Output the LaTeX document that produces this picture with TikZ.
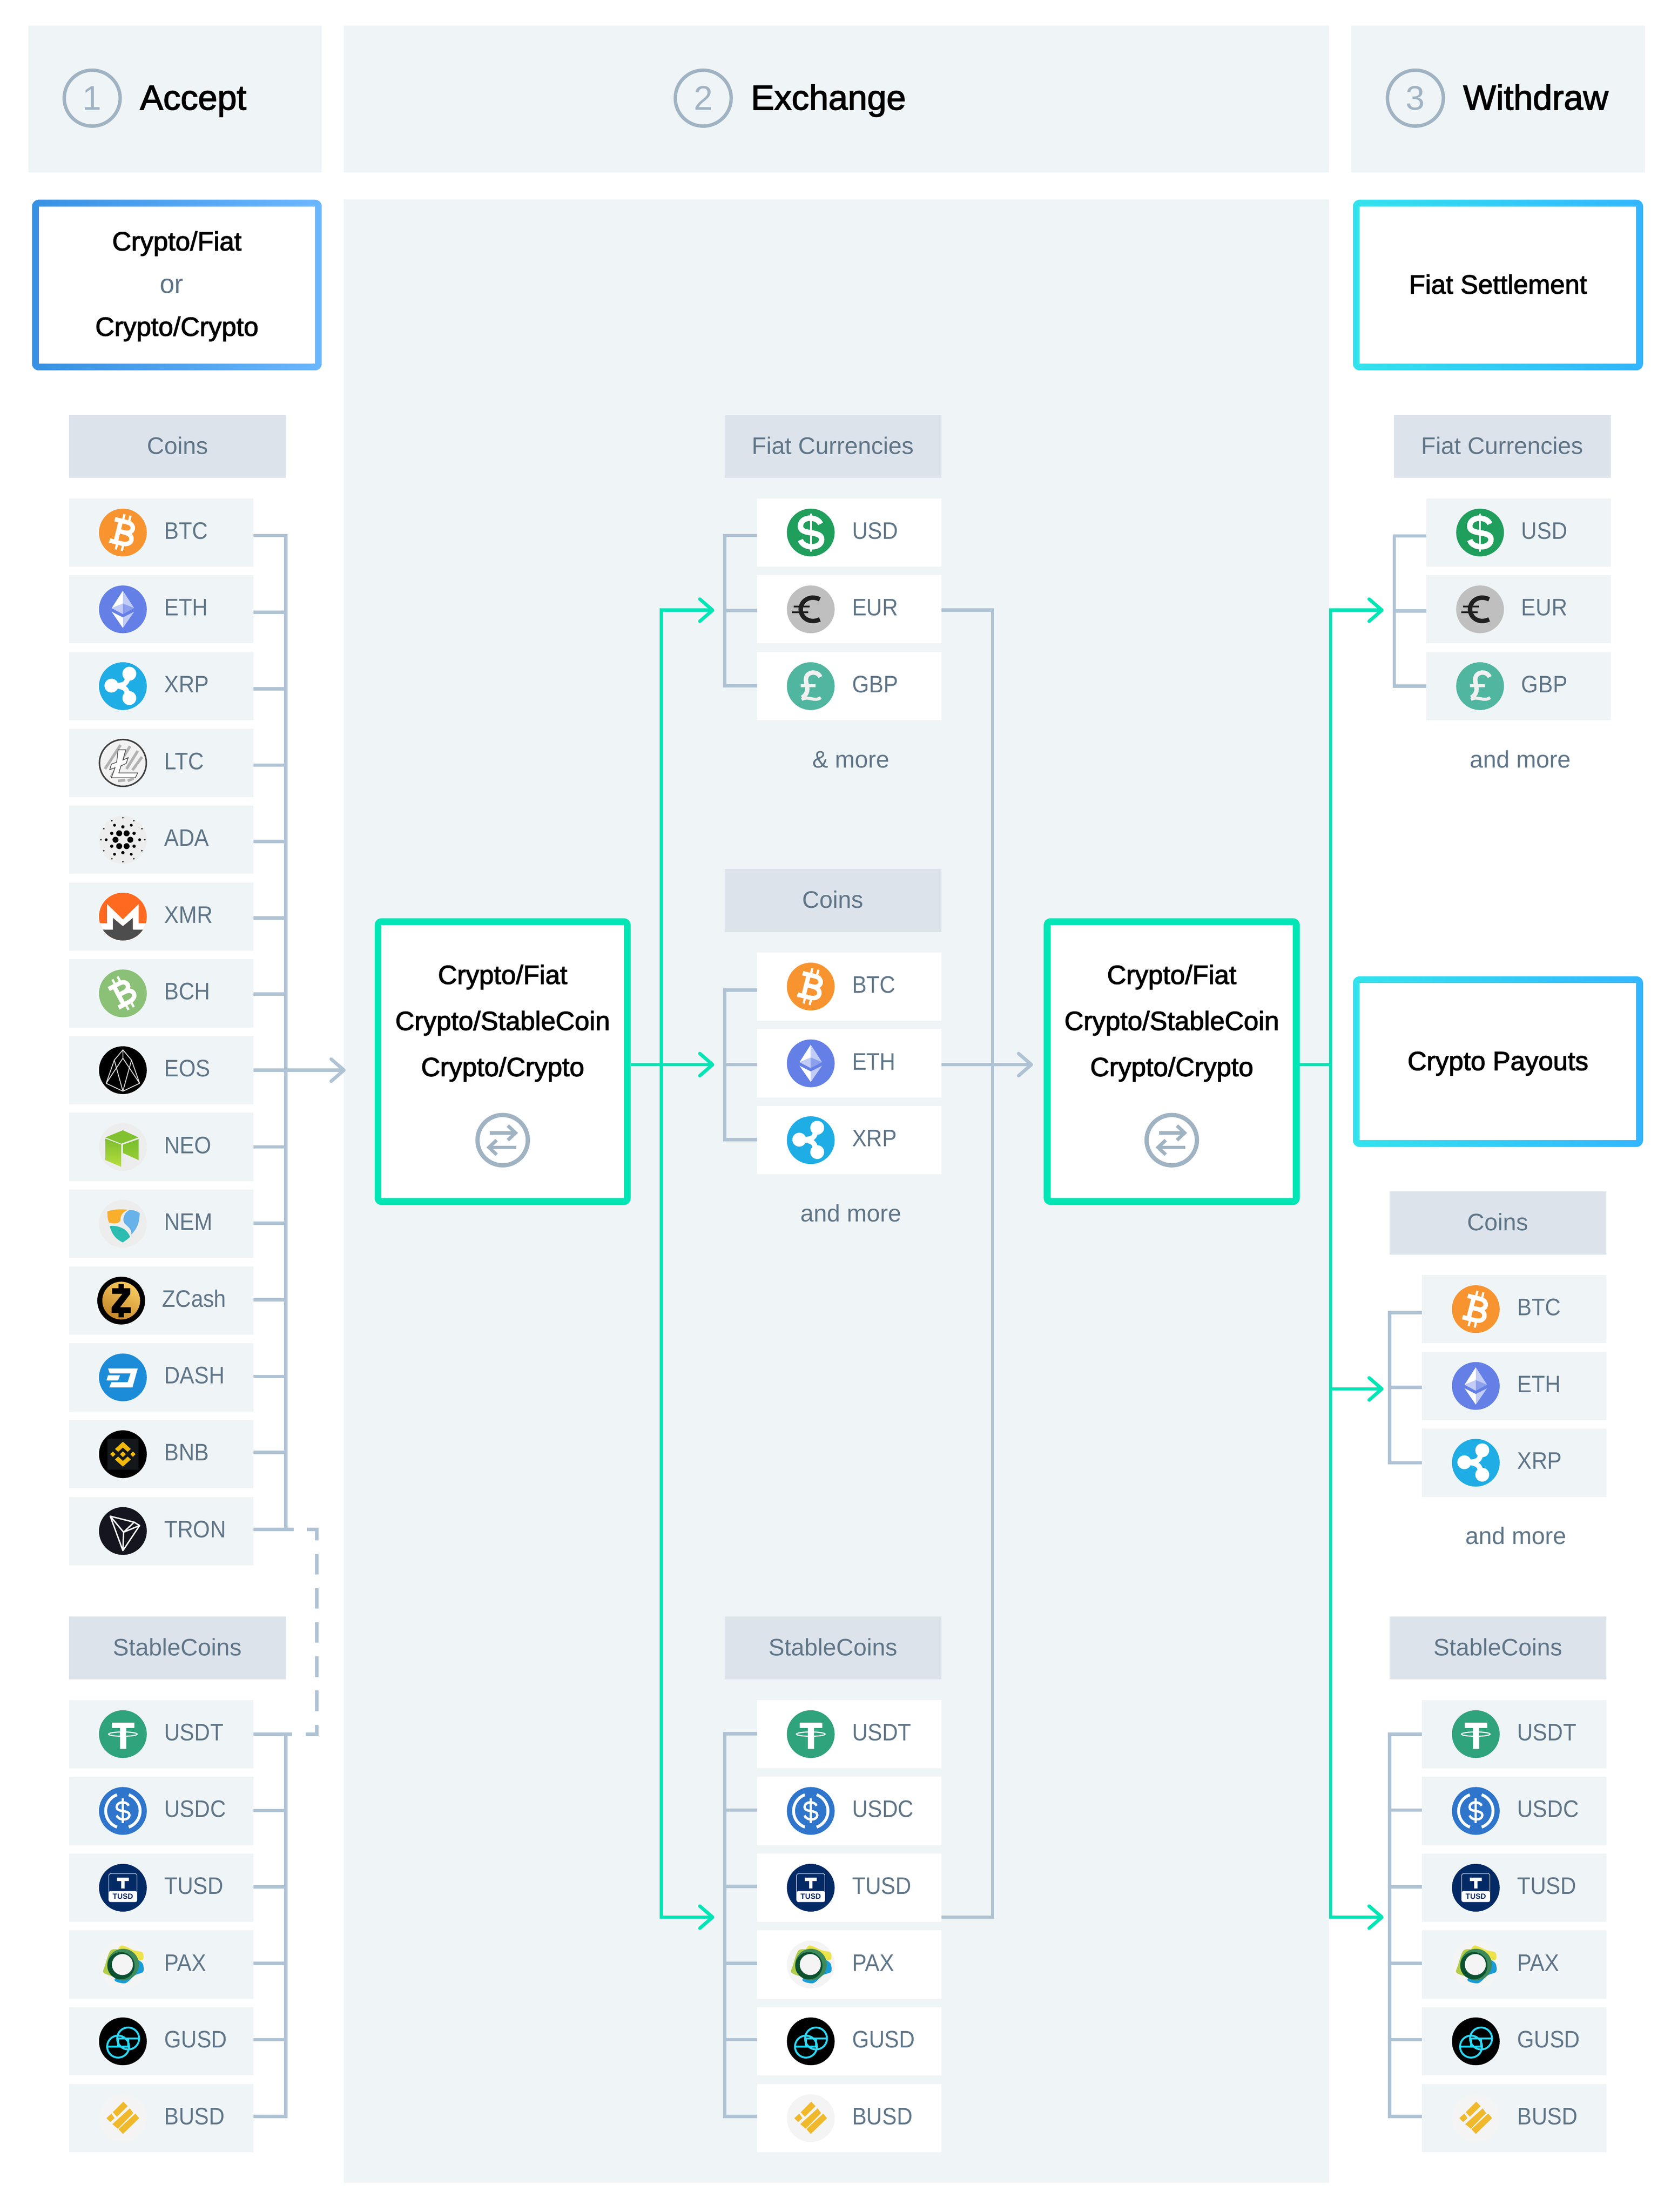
\documentclass[tikz,border=0pt]{standalone}
\usepackage{fontspec}
\setmainfont{Liberation Sans}
\newfontfamily\capsfam[FakeStretch=0.91]{Liberation Sans}
\newfontfamily\medfam[FakeBold=2.2]{Liberation Sans}
\usetikzlibrary{positioning,arrows.meta,calc}
\definecolor{panelc}{HTML}{EFF4F7}
\definecolor{headc}{HTML}{DCE3EB}
\definecolor{txtc}{HTML}{5F7587}
\definecolor{numc}{HTML}{A0B3C2}
\definecolor{plinec}{HTML}{AFC3D4}
\definecolor{glinec}{HTML}{02E5B5}
\definecolor{bluea}{HTML}{3791E3}
\definecolor{blueb}{HTML}{6BB7FF}
\definecolor{cyana}{HTML}{33E3EC}
\definecolor{cyanb}{HTML}{33B5FF}
\definecolor{iconbg}{HTML}{EDEDED}
\definecolor{tnavy}{HTML}{042A66}
\definecolor{bnbyel}{HTML}{F0B90B}
\definecolor{gusdc}{HTML}{29D9F7}
\newcommand{\coinfont}{\capsfam\fontsize{14}{16}\selectfont}
\newcommand{\labfont}{\rmfamily\fontsize{14}{25}\selectfont}
\newcommand{\boxfont}{\medfam\fontsize{15.5}{27}\selectfont}
\tikzstyle{every node}=[outer sep=0pt]
\tikzstyle{hdbox}=[rectangle, fill=panelc, minimum height=86pt, inner sep=0pt]
\tikzstyle{numcirc}=[circle, draw=numc, line width=2pt, minimum size=32.75pt, inner sep=0pt, text=numc, font=\rmfamily\fontsize{20}{24}\selectfont]
\tikzstyle{hdtext}=[inner sep=0pt, anchor=base west, text=black, font=\medfam\fontsize{20.4}{24}\selectfont]
\tikzstyle{grouphd}=[rectangle, fill=headc, minimum width=127pt, minimum height=37pt, inner sep=0pt, text=txtc, text height=10pt, text depth=1pt, font=\labfont]
\tikzstyle{coinbox}=[rectangle, fill=panelc, minimum height=40pt, inner sep=0pt, text width=108pt, align=left, text=txtc, text height=10pt, text depth=2.5pt, font=\coinfont, execute at begin node={\hspace*{55.75pt}}]
\tikzstyle{coinwht}=[coinbox, fill=white]
\tikzstyle{morelab}=[inner sep=0pt, anchor=base, text=txtc, font=\labfont]
\tikzstyle{framebox}=[rectangle, rounded corners=4pt, minimum width=170pt, minimum height=100pt, inner sep=0pt]
\tikzstyle{blueframe}=[framebox, left color=bluea, right color=blueb]
\tikzstyle{cyanframe}=[framebox, left color=cyana, right color=cyanb]
\tikzstyle{greenframe}=[framebox, fill=glinec, minimum width=150pt, minimum height=168pt]
\tikzstyle{framein}=[rectangle, fill=white, inner sep=0pt, align=center, text=black, text height=11pt, text depth=1pt, font=\boxfont]
\tikzstyle{boxtext}=[inner sep=0pt, align=center, text=black, font=\boxfont]
\tikzstyle{pline}=[-, line width=2pt, draw=plinec]
\tikzstyle{parrow}=[pline, -{Straight Barb[length=7.5pt,width=13pt,round]}]
\tikzstyle{gline}=[-, line width=2pt, draw=glinec]
\tikzstyle{garrow}=[gline, -{Straight Barb[length=7.5pt,width=13pt,round]}]
\tikzstyle{dline}=[pline, dash pattern=on 12pt off 8pt, dash phase=7.5pt]
\tikzstyle{icon}=[x=14pt,y=14pt]
\newcommand{\bglyph}{
 \draw[white,line width=2.6pt,line join=round] (-.46,.46) -- (.08,.46) .. controls (.46,.46) and (.46,.02) .. (.08,.02) -- (-.22,.02) (.08,.02) .. controls (.54,.02) and (.54,-.46) .. (.08,-.46) -- (-.46,-.46) (-.2,.46) -- (-.2,-.46);
 \draw[white,line width=1.3pt] (-.12,.4) -- (-.12,.76) (.14,.4) -- (.14,.76) (-.12,-.4) -- (-.12,-.76) (.14,-.4) -- (.14,-.76);
}
\newcommand{\dollarglyph}{
 \draw (.34,.3) .. controls (.24,.58) and (-.36,.58) .. (-.36,.22) .. controls (-.36,-.12) and (.38,.1) .. (.38,-.24) .. controls (.38,-.58) and (-.26,-.58) .. (-.36,-.26);
}
\tikzset{
 btcic/.pic={\fill[fill={rgb,255:red,247;green,148;blue,48}] (0,0) circle (1);
  \begin{scope}[rotate=-14]\bglyph\end{scope}},
 bchic/.pic={\fill[fill={rgb,255:red,139;green,192;blue,119}] (0,0) circle (1);
  \begin{scope}[rotate=28,scale=.95]\bglyph\end{scope}},
 ethic/.pic={\fill[fill={rgb,255:red,100;green,128;blue,230}] (0,0) circle (1);
  \fill[white] (0,.78) -- (-.47,.05) -- (0,.24) -- cycle;
  \fill[fill={rgb,255:red,193;green,204;blue,247}] (0,.78) -- (.47,.05) -- (0,.24) -- cycle (-.47,.05) -- (0,.24) -- (0,-.2) -- cycle (0,-.78) -- (.47,-.1) -- (0,-.34) -- cycle;
  \fill[fill={rgb,255:red,140;green,160;blue,238}] (.47,.05) -- (0,.24) -- (0,-.2) -- cycle;
  \fill[white] (0,-.78) -- (-.47,-.1) -- (0,-.34) -- cycle;},
 xrpic/.pic={\fill[fill={rgb,255:red,30;green,173;blue,229}] (0,0) circle (1);
  \fill[white] (.27,.52) circle (.29) (-.48,.02) circle (.29) (.27,-.5) circle (.29);
  \draw[white,line width=3pt] (.22,.4) .. controls (.15,.12) and (.12,.05) .. (-.3,.02) (.22,-.4) .. controls (.15,-.12) and (.12,-.05) .. (-.3,.02);},
 ltcic/.pic={\filldraw[fill=white!95!black,draw=black!75,line width=.9pt] (0,0) circle (.98);
  \draw[black!30,line width=1.6pt] (-.75,-.25) -- (-.1,.75) (-.5,-.6) -- (.3,.7) (.15,-.25) -- (.62,.5) (.4,-.3) -- (.8,.25) (-.2,-.75) -- (.1,-.72) (.2,-.75) -- (.45,-.65);
  \filldraw[fill=white,draw=black!70,line width=.4pt] (-.2,.55) -- (.12,.55) -- (0,.12) -- (.22,.22) -- (.14,-.02) -- (-.08,-.12) -- (-.17,-.42) -- (.62,-.42) -- (.52,-.62) -- (-.48,-.62) -- (-.33,-.2) -- (-.55,-.28) -- (-.48,-.05) -- (-.26,.03) -- cycle;},
 adaic/.pic={\fill[iconbg] (0,0) circle (1);
  \foreach \a in {0,60,...,300}{\fill[black] (\a:.31) circle (.125);}
  \foreach \a in {30,90,...,330}{\fill[black] (\a:.54) circle (.07);}
  \foreach \a in {0,60,...,300}{\fill[black] (\a:.7) circle (.06);}
  \foreach \a in {0,30,...,330}{\fill[black] (\a:.92) circle (.035);}},
 xmric/.pic={\begin{scope}\clip (0,0) circle (1);
  \fill[fill={rgb,255:red,255;green,106;blue,32}] (-1,-1) rectangle (1,1);
  \fill[fill={rgb,255:red,77;green,77;blue,77}] (-1,-.55) -- (-.42,-.55) -- (-.42,-.05) -- (0,-.4) -- (.42,-.05) -- (.42,-.55) -- (1,-.55) -- (1,-1) -- (-1,-1) -- cycle;
  \fill[white] (-1,-.28) -- (-.66,-.28) -- (-.66,.52) -- (0,-.12) -- (.66,.52) -- (.66,-.28) -- (1,-.28) -- (1,-.55) -- (.42,-.55) -- (.42,-.05) -- (0,-.4) -- (-.42,-.05) -- (-.42,-.55) -- (-1,-.55) -- cycle;
  \end{scope}},
 eosic/.pic={\fill[black] (0,0) circle (1);
  \draw[white!85!black,line width=.5pt,line join=round] (0,.85) -- (-.36,.42) -- (-.7,-.55) -- (0,-.88) -- (.7,-.55) -- (.36,.42) -- cycle (-.36,.42) -- (0,-.88) -- (.36,.42) (0,.85) -- (0,.5) (-.7,-.55) -- (0,.5) -- (.7,-.55);},
 neoic/.pic={\fill[iconbg] (0,0) circle (1);
  \fill[fill={rgb,255:red,130;green,194;blue,48}] (0,.7) -- (.65,.4) -- (-.07,.14) -- (-.73,.4) -- cycle;
  \shade[top color={rgb,255:red,124;green,190;blue,46},bottom color={rgb,255:red,182;green,222;blue,60}] (-.73,.35) -- (-.07,.1) -- (-.07,-.83) -- (-.73,-.55) -- cycle;
  \shade[top color={rgb,255:red,120;green,190;blue,46},bottom color={rgb,255:red,150;green,205;blue,50}] (0,.1) -- (.66,.33) -- (.66,-.55) -- (0,-.25) -- cycle;},
 nemic/.pic={\fill[iconbg] (0,0) circle (1);
  \fill[fill={rgb,255:red,249;green,175;blue,43}] (-.65,.52) .. controls (-.3,.62) and (0,.62) .. (.2,.58) .. controls (0,.5) and (-.1,.35) .. (-.1,.2) .. controls (-.1,.02) and (-.3,-.02) .. (-.58,.05) .. controls (-.65,.2) and (-.65,.4) .. cycle;
  \fill[fill={rgb,255:red,103;green,178;blue,232}] (.28,.58) .. controls (.45,.58) and (.6,.52) .. (.7,.45) .. controls (.7,0) and (.55,-.25) .. (.35,-.45) .. controls (.38,-.1) and (.05,-.1) .. (.02,.15) .. controls (.02,.35) and (.12,.5) .. cycle;
  \fill[fill={rgb,255:red,43;green,189;blue,176}] (-.55,-.1) .. controls (-.3,-.05) and (-.1,-.15) .. (.05,-.22) .. controls (.15,-.3) and (.25,-.4) .. (.3,-.55) .. controls (.15,-.68) and (.08,-.72) .. (0,-.78) .. controls (-.3,-.65) and (-.48,-.4) .. cycle;},
 zecic/.pic={\fill[black] (0,0) circle (1);
  \shade[top color={rgb,255:red,248;green,202;blue,96},bottom color={rgb,255:red,198;green,136;blue,42},shading angle=-30] (0,0) circle (.79);
  \fill[black] (-.38,.52) -- (-.11,.52) -- (-.11,.7) -- (.11,.7) -- (.11,.52) -- (.38,.52) -- (.38,.28) -- (-.05,-.28) -- (.4,-.28) -- (.4,-.52) -- (.11,-.52) -- (.11,-.7) -- (-.11,-.7) -- (-.11,-.52) -- (-.4,-.52) -- (-.4,-.28) -- (.05,.28) -- (-.38,.28) -- cycle;},
 dashic/.pic={\fill[fill={rgb,255:red,28;green,140;blue,216}] (0,0) circle (1);
  \fill[white] (-.62,.37) -- (.62,.37) -- (.4,-.42) -- (-.57,-.42) -- (-.48,-.2) -- (.2,-.2) -- (.32,.17) -- (-.55,.17) -- cycle (-.69,-.13) -- (-.2,-.13) -- (-.12,.09) -- (-.62,.09) -- cycle;},
 bnbic/.pic={\fill[black] (0,0) circle (1);
  \fill[fill={rgb,255:red,20;green,24;blue,27}] (-.65,-.65) rectangle (.65,.65);
  \fill[bnbyel] (0,.12) -- (.12,0) -- (0,-.12) -- (-.12,0) -- cycle (-.42,.11) -- (-.31,0) -- (-.42,-.11) -- (-.53,0) -- cycle (.42,.11) -- (.53,0) -- (.42,-.11) -- (.31,0) -- cycle (0,.52) -- (.33,.22) -- (.2,.1) -- (0,.28) -- (-.2,.1) -- (-.33,.22) -- cycle (0,-.52) -- (.33,-.22) -- (.2,-.1) -- (0,-.28) -- (-.2,-.1) -- (-.33,-.22) -- cycle;},
 tronic/.pic={\fill[fill={rgb,255:red,20;green,21;blue,30}] (0,0) circle (1);
  \draw[white,line width=.8pt,line join=round] (-.53,.62) -- (.47,.37) -- (.7,.23) -- (0,-.82) -- cycle (-.53,.62) -- (.03,-.05) -- (.47,.37) (.03,-.05) -- (0,-.82) (.03,-.05) -- (.7,.23);},
 usdtic/.pic={\fill[fill={rgb,255:red,47;green,163;blue,124}] (0,0) circle (1);
  \fill[white] (-.46,.48) rectangle (.48,.26) (-.12,.3) rectangle (.14,-.62);
  \draw[white,line width=.6pt,fill={rgb,255:red,47;green,163;blue,124}] (0,0) ellipse (.6 and .09);
  \fill[white] (-.12,.09) rectangle (.14,-.07);},
 usdcic/.pic={\fill[fill={rgb,255:red,46;green,117;blue,203}] (0,0) circle (1);
  \draw[white,line width=1.7pt] (110:.72) arc[start angle=110,end angle=250,radius=.72] (70:.72) arc[start angle=70,end angle=-70,radius=.72];
  \begin{scope}[scale=.72,white,line width=1.4pt]\dollarglyph\draw (0,.72) -- (0,-.72);\end{scope}},
 tusdic/.pic={\fill[tnavy] (0,0) circle (1);
  \draw[white,line width=.25pt,rounded corners=1pt] (-.59,.59) rectangle (.59,-.59);
  \fill[white,rounded corners=1pt] (-.59,-.14) -- (.59,-.14) -- (.59,-.59) -- (-.59,-.59) -- cycle;
  \fill[white] (-.25,.42) rectangle (.25,.28) (-.07,.3) rectangle (.07,-.03);
  \node (tusdlab) [inner sep=0pt, text=tnavy, font=\bfseries\fontsize{4.4}{5}\selectfont] at (0,-.37) {TUSD};},
 paxic/.pic={\fill[fill={rgb,255:red,244;green,244;blue,244}] (0,0) circle (1);
  \fill[fill={rgb,255:red,178;green,205;blue,74}] plot[smooth cycle] coordinates {(-.5,.6) (0,.55) (.2,0) (-.2,-.5) (-.8,-.35) (-.75,-.05)};
  \fill[fill={rgb,255:red,237;green,227;blue,74}] plot[smooth cycle] coordinates {(-.05,.8) (.45,.6) (.82,.5) (.83,.2) (.4,.2) (-.2,.5)};
  \fill[fill={rgb,255:red,26;green,156;blue,216}] plot[smooth cycle] coordinates {(.82,.05) (.85,-.3) (.5,-.45) (.1,-.78) (-.35,-.65) (0,-.2) (.5,.2)};
  \fill[fill={rgb,255:red,62;green,138;blue,90}] (.01,0) circle (.66);
  \fill[fill={rgb,255:red,12;green,82;blue,48}] (-.08,-.05) circle (.57);
  \fill[fill={rgb,255:red,244;green,244;blue,244}] (-.02,0) circle (.44);},
 gusdic/.pic={\fill[black] (0,0) circle (1);
  \draw[gusdc,line width=1.1pt] (.22,.12) circle (.46) (-.2,-.22) circle (.46) (-.24,.12) -- (.68,.12) (-.66,-.22) -- (.26,-.22) (-.2,.12) -- (-.2,-.22) (.22,.12) -- (.22,-.22);},
 busdic/.pic={\fill[fill={rgb,255:red,244;green,244;blue,244}] (0,0) circle (1);
  \fill[fill={rgb,255:red,240;green,185;blue,43}] (-.42,.25) -- (.02,.69) -- (.2,.5) -- (-.25,.06) -- cycle (-.44,-.25) -- (.29,.41) -- (.43,.21) -- (-.21,-.44) -- cycle (-.18,-.46) -- (.52,.19) -- (.68,0) -- (0,-.66) -- cycle (-.69,0) -- (-.48,.19) -- (-.35,0) -- (-.53,-.16) -- cycle;},
 usdic/.pic={\fill[fill={rgb,255:red,31;green,158;blue,92}] (0,0) circle (1);
  \begin{scope}[scale=1.2,white,line width=3.2pt]\dollarglyph\end{scope}
  \draw[white,line width=1pt] (0,.8) -- (0,-.8);},
 euric/.pic={\fill[fill={rgb,255:red,191;green,191;blue,191}] (0,0) circle (1);
  \draw[black!88,line width=2.6pt] (.38,.42) .. controls (-.05,.62) and (-.42,.35) .. (-.42,0) .. controls (-.42,-.35) and (-.05,-.62) .. (.38,-.42);
  \draw[black!88,line width=1.2pt] (-.72,.12) -- (-.05,.12) (-.78,-.12) -- (-.1,-.12);},
 gbpic/.pic={\fill[fill={rgb,255:red,80;green,182;blue,160}] (0,0) circle (1);
  \draw[white!94!black,line width=2.6pt] (.4,.38) .. controls (.28,.68) and (-.25,.62) .. (-.2,.22) .. controls (-.18,0) and (-.02,-.25) .. (-.36,-.48);
  \draw[white!94!black,line width=1.8pt] (-.42,.02) -- (.2,.02) (-.38,-.56) .. controls (-.1,-.38) and (.15,-.68) .. (.42,-.48);},
 swapic/.pic={\draw[numc,line width=2.5pt] (0,0) circle (14.75pt);
  \draw[numc,line width=2pt,-{Straight Barb[length=4.5pt,width=8.5pt]}] (-7.5pt,4.25pt) -- (9pt,4.25pt);
  \draw[numc,line width=2pt,-{Straight Barb[length=4.5pt,width=8.5pt]}] (8pt,-4.25pt) -- (-9.5pt,-4.25pt);}
}
\begin{document}
\begin{tikzpicture}[node distance=0mm]
\useasboundingbox (0,0) rectangle (979pt,-1296pt);
%column headers
\node (H1) [hdbox,minimum width=172pt,anchor=north west] at (16.5pt,-15pt) {};
\node (H2) [hdbox,minimum width=577pt,right=13pt of H1] {};
\node (H3) [hdbox,minimum width=172.25pt,right=13pt of H2] {};
\node (N1) [numcirc] at ([xshift=37.5pt,yshift=.5pt]H1.west) {1};
\node (N2) [numcirc] at ([xshift=210.5pt,yshift=.5pt]H2.west) {2};
\node (N3) [numcirc] at ([xshift=37.75pt,yshift=.5pt]H3.west) {3};
\node (T1) [hdtext] at ([xshift=28pt,yshift=-6.75pt]N1.center) {Accept};
\node (T2) [hdtext] at ([xshift=28pt,yshift=-6.75pt]N2.center) {Exchange};
\node (T3) [hdtext] at ([xshift=28pt,yshift=-6.75pt]N3.center) {Withdraw};
\node (PANEL) [hdbox,minimum width=577pt,minimum height=1161.75pt,below=16pt of H2] {};
%accept column
\node (ACC) [blueframe,minimum width=169.75pt,below=16pt of H1.south east,anchor=north east] {};
\node (ACCIN) [framein,minimum width=161.75pt,minimum height=92pt] at (ACC.center) {};
\node (ACCT) [boxtext,font=\medfam\fontsize{15.5}{25}\selectfont] at ([yshift=-.75pt]ACC.center) {Crypto/Fiat\\{\rmfamily\color{txtc}\hspace*{-3pt}or\hspace*{3pt}}\\Crypto/Crypto};
\node (ACOINS) [grouphd,below=26pt of ACC.south west,anchor=north west,xshift=21.75pt] {Coins};
\node (ABTC) [coinbox,below=12pt of ACOINS.south west,anchor=north west] {BTC};
\node (AETH) [coinbox,below=5pt of ABTC] {ETH};
\node (AXRP) [coinbox,below=5pt of AETH] {XRP};
\node (ALTC) [coinbox,below=5pt of AXRP] {LTC};
\node (AADA) [coinbox,below=5pt of ALTC] {ADA};
\node (AXMR) [coinbox,below=5pt of AADA] {XMR};
\node (ABCH) [coinbox,below=5pt of AXMR] {BCH};
\node (AEOS) [coinbox,below=5pt of ABCH] {EOS};
\node (ANEO) [coinbox,below=5pt of AEOS] {NEO};
\node (ANEM) [coinbox,below=5pt of ANEO] {NEM};
\node (AZEC) [coinbox,below=5pt of ANEM] {\hspace*{-1.25pt}ZCash};
\node (ADASH) [coinbox,below=5pt of AZEC] {DASH};
\node (ABNB) [coinbox,below=5pt of ADASH] {BNB};
\node (ATRON) [coinbox,below=5pt of ABNB] {TRON};
\node (ASTAB) [grouphd,below=30pt of ATRON.south west,anchor=north west] {StableCoins};
\node (AUSDT) [coinbox,below=12pt of ASTAB.south west,anchor=north west] {USDT};
\node (AUSDC) [coinbox,below=5pt of AUSDT] {USDC};
\node (ATUSD) [coinbox,below=5pt of AUSDC] {TUSD};
\node (APAX) [coinbox,below=5pt of ATUSD] {PAX};
\node (AGUSD) [coinbox,below=5pt of APAX] {GUSD};
\node (ABUSD) [coinbox,below=5pt of AGUSD] {BUSD};
\pic[icon] at ([xshift=31.5pt]ABTC.west) {btcic};
\pic[icon] at ([xshift=31.5pt]AETH.west) {ethic};
\pic[icon] at ([xshift=31.5pt]AXRP.west) {xrpic};
\pic[icon] at ([xshift=31.5pt]ALTC.west) {ltcic};
\pic[icon] at ([xshift=31.5pt]AADA.west) {adaic};
\pic[icon] at ([xshift=31.5pt]AXMR.west) {xmric};
\pic[icon] at ([xshift=31.5pt]ABCH.west) {bchic};
\pic[icon] at ([xshift=31.5pt]AEOS.west) {eosic};
\pic[icon] at ([xshift=31.5pt]ANEO.west) {neoic};
\pic[icon] at ([xshift=31.5pt]ANEM.west) {nemic};
\pic[icon] at ([xshift=30.5pt]AZEC.west) {zecic};
\pic[icon] at ([xshift=31.5pt]ADASH.west) {dashic};
\pic[icon] at ([xshift=31.5pt]ABNB.west) {bnbic};
\pic[icon] at ([xshift=31.5pt]ATRON.west) {tronic};
\pic[icon] at ([xshift=31.5pt]AUSDT.west) {usdtic};
\pic[icon] at ([xshift=31.5pt]AUSDC.west) {usdcic};
\pic[icon] at ([xshift=31.5pt]ATUSD.west) {tusdic};
\pic[icon] at ([xshift=31.5pt]APAX.west) {paxic};
\pic[icon] at ([xshift=31.5pt]AGUSD.west) {gusdic};
\pic[icon] at ([xshift=31.5pt]ABUSD.west) {busdic};
%exchange column
\node (EX1) [greenframe,below right=421pt and 18pt of PANEL.north west] {};
\node (EX1IN) [framein,minimum width=142pt,minimum height=160pt] at (EX1.center) {};
\node (EX1T) [boxtext] at ([yshift=22.5pt]EX1.center) {Crypto/Fiat\\Crypto/StableCoin\\Crypto/Crypto};
\pic at ([yshift=-46pt]EX1.center) {swapic};
\node (EX2) [greenframe,right=242pt of EX1] {};
\node (EX2IN) [framein,minimum width=142pt,minimum height=160pt] at (EX2.center) {};
\node (EX2T) [boxtext] at ([yshift=22.5pt]EX2.center) {Crypto/Fiat\\Crypto/StableCoin\\Crypto/Crypto};
\pic at ([yshift=-46pt]EX2.center) {swapic};
\node (MFIAT) [grouphd,below right=126pt and 223pt of PANEL.north west] {Fiat Currencies};
\node (MUSD) [coinwht,below=12pt of MFIAT.south east,anchor=north east] {USD};
\node (MEUR) [coinwht,below=5pt of MUSD] {EUR};
\node (MGBP) [coinwht,below=5pt of MEUR] {GBP};
\node (MFMORE) [morelab] at ([xshift=1pt,yshift=-27.75pt]MGBP.south) {\& more};
\node (MCOINS) [grouphd,below=87pt of MGBP.south east,anchor=north east] {Coins};
\node (MBTC) [coinwht,below=12pt of MCOINS.south east,anchor=north east] {BTC};
\node (METH) [coinwht,below=5pt of MBTC] {ETH};
\node (MXRP) [coinwht,below=5pt of METH] {XRP};
\node (MCMORE) [morelab] at ([xshift=1pt,yshift=-27.75pt]MXRP.south) {and more};
\node (MSTAB) [grouphd,below=259pt of MXRP.south east,anchor=north east] {StableCoins};
\node (MUSDT) [coinwht,below=12pt of MSTAB.south east,anchor=north east] {USDT};
\node (MUSDC) [coinwht,below=5pt of MUSDT] {USDC};
\node (MTUSD) [coinwht,below=5pt of MUSDC] {TUSD};
\node (MPAX) [coinwht,below=5pt of MTUSD] {PAX};
\node (MGUSD) [coinwht,below=5pt of MPAX] {GUSD};
\node (MBUSD) [coinwht,below=5pt of MGUSD] {BUSD};
\pic[icon] at ([xshift=31.5pt]MUSD.west) {usdic};
\pic[icon] at ([xshift=31.5pt]MEUR.west) {euric};
\pic[icon] at ([xshift=31.5pt]MGBP.west) {gbpic};
\pic[icon] at ([xshift=31.5pt]MBTC.west) {btcic};
\pic[icon] at ([xshift=31.5pt]METH.west) {ethic};
\pic[icon] at ([xshift=31.5pt]MXRP.west) {xrpic};
\pic[icon] at ([xshift=31.5pt]MUSDT.west) {usdtic};
\pic[icon] at ([xshift=31.5pt]MUSDC.west) {usdcic};
\pic[icon] at ([xshift=31.5pt]MTUSD.west) {tusdic};
\pic[icon] at ([xshift=31.5pt]MPAX.west) {paxic};
\pic[icon] at ([xshift=31.5pt]MGUSD.west) {gusdic};
\pic[icon] at ([xshift=31.5pt]MBUSD.west) {busdic};
%withdraw column
\node (FS) [cyanframe,below=16pt of H3] {};
\node (FSIN) [framein,minimum width=162pt,minimum height=92pt] at (FS.center) {Fiat Settlement};
\node (RFIAT) [grouphd,below=26pt of FS.south west,anchor=north west,xshift=24pt] {Fiat Currencies};
\node (RUSD) [coinbox,below=12pt of RFIAT.south east,anchor=north east] {USD};
\node (REUR) [coinbox,below=5pt of RUSD] {EUR};
\node (RGBP) [coinbox,below=5pt of REUR] {GBP};
\node (RFMORE) [morelab] at ([xshift=1pt,yshift=-27.75pt]RGBP.south) {and more};
\node (CP) [cyanframe,below=355pt of FS] {};
\node (CPIN) [framein,minimum width=162pt,minimum height=92pt] at (CP.center) {Crypto Payouts};
\node (RCOINS) [grouphd,below=26pt of CP.south west,anchor=north west,xshift=21.5pt] {Coins};
\node (RBTC) [coinbox,below=12pt of RCOINS.south east,anchor=north east] {BTC};
\node (RETH) [coinbox,below=5pt of RBTC] {ETH};
\node (RXRP) [coinbox,below=5pt of RETH] {XRP};
\node (RCMORE) [morelab] at ([xshift=1pt,yshift=-27.75pt]RXRP.south) {and more};
\node (RSTAB) [grouphd,below=70pt of RXRP.south east,anchor=north east] {StableCoins};
\node (RUSDT) [coinbox,below=12pt of RSTAB.south east,anchor=north east] {USDT};
\node (RUSDC) [coinbox,below=5pt of RUSDT] {USDC};
\node (RTUSD) [coinbox,below=5pt of RUSDC] {TUSD};
\node (RPAX) [coinbox,below=5pt of RTUSD] {PAX};
\node (RGUSD) [coinbox,below=5pt of RPAX] {GUSD};
\node (RBUSD) [coinbox,below=5pt of RGUSD] {BUSD};
\pic[icon] at ([xshift=31.5pt]RUSD.west) {usdic};
\pic[icon] at ([xshift=31.5pt]REUR.west) {euric};
\pic[icon] at ([xshift=31.5pt]RGBP.west) {gbpic};
\pic[icon] at ([xshift=31.5pt]RBTC.west) {btcic};
\pic[icon] at ([xshift=31.5pt]RETH.west) {ethic};
\pic[icon] at ([xshift=31.5pt]RXRP.west) {xrpic};
\pic[icon] at ([xshift=31.5pt]RUSDT.west) {usdtic};
\pic[icon] at ([xshift=31.5pt]RUSDC.west) {usdcic};
\pic[icon] at ([xshift=31.5pt]RTUSD.west) {tusdic};
\pic[icon] at ([xshift=31.5pt]RPAX.west) {paxic};
\pic[icon] at ([xshift=31.5pt]RGUSD.west) {gusdic};
\pic[icon] at ([xshift=31.5pt]RBUSD.west) {busdic};
%accept lines
\coordinate (ABUS) at ([xshift=19pt]AEOS.east);
\draw[pline] ([yshift=-1.75pt]ABTC.east) -| (ABUS);
\draw[pline] ([yshift=-1.75pt]AETH.east) -| (ABUS);
\draw[pline] ([yshift=-1.5pt]AXRP.east) -| (ABUS);
\draw[pline] ([yshift=-1.25pt]ALTC.east) -| (ABUS);
\draw[pline] ([yshift=-1pt]AADA.east) -| (ABUS);
\draw[pline] ([yshift=-.75pt]AXMR.east) -| (ABUS);
\draw[pline] ([yshift=-.5pt]ABCH.east) -| (ABUS);
\draw[pline] (ANEO.east) -| (ABUS);
\draw[pline] ([yshift=.25pt]ANEM.east) -| (ABUS);
\draw[pline] ([yshift=.5pt]AZEC.east) -| (ABUS);
\draw[pline] ([yshift=.5pt]ADASH.east) -| (ABUS);
\draw[pline] ([yshift=1pt]ABNB.east) -| (ABUS);
\draw[pline] ([yshift=1pt]ATRON.east) -| (ABUS);
\draw[parrow] (AEOS.east) -- ([xshift=54pt]AEOS.east);
\coordinate (SBUS) at ([xshift=19pt]ATUSD.east);
\draw[pline] (AUSDT.east) -| (SBUS);
\draw[pline] ([yshift=.25pt]AUSDC.east) -| (SBUS);
\draw[pline] ([yshift=.5pt]ATUSD.east) -| (SBUS);
\draw[pline] ([yshift=.75pt]APAX.east) -| (SBUS);
\draw[pline] ([yshift=1pt]AGUSD.east) -| (SBUS);
\draw[pline] ([yshift=1pt]ABUSD.east) -| (SBUS);
\coordinate (DA) at ([xshift=19pt,yshift=1pt]ATRON.east);
\coordinate (DB) at ([xshift=37pt,yshift=1pt]ATRON.east);
\coordinate (DC) at ([xshift=37pt]AUSDT.east);
\coordinate (DD) at ([xshift=19pt]AUSDT.east);
\draw[dline] (DA) -- (DB) -- (DC) -- (DD);
%exchange lines
\coordinate (MFB) at ([xshift=-19pt]MEUR.west);
\draw[pline] ([yshift=-1.75pt]MUSD.west) -| (MFB);
\draw[pline] ([yshift=-.75pt]MEUR.west) -| (MFB);
\draw[pline] ([yshift=.25pt]MGBP.west) -| (MFB);
\coordinate (MCB) at ([xshift=-19pt]METH.west);
\draw[pline] ([yshift=-2pt]MBTC.west) -| (MCB);
\draw[pline] ([yshift=-.75pt]METH.west) -| (MCB);
\draw[pline] ([yshift=.25pt]MXRP.west) -| (MCB);
\coordinate (MSB) at ([xshift=-19pt]MTUSD.west);
\draw[pline] ([yshift=.25pt]MUSDT.west) -| (MSB);
\draw[pline] ([yshift=.5pt]MUSDC.west) -| (MSB);
\draw[pline] ([yshift=.75pt]MTUSD.west) -| (MSB);
\draw[pline] ([yshift=.75pt]MPAX.west) -| (MSB);
\draw[pline] ([yshift=1pt]MGUSD.west) -| (MSB);
\draw[pline] ([yshift=1pt]MBUSD.west) -| (MSB);
\coordinate (MOUT) at ([yshift=2.75pt]MTUSD.south east);
\draw[pline] ([yshift=-.5pt]MEUR.east) -| ([xshift=30pt]MOUT) -- (MOUT);
\draw[parrow] ([yshift=-.75pt]METH.east) -- ([xshift=-6.25pt,yshift=-1.75pt]EX2.west);
\coordinate (GBUS) at ([xshift=18pt,yshift=-1.75pt]EX1.east);
\coordinate (GT1) at ([xshift=-25pt,yshift=-.5pt]MEUR.west);
\coordinate (GT2) at ([xshift=-25pt,yshift=-.75pt]METH.west);
\coordinate (GT3) at ([xshift=-25pt,yshift=2.75pt]MTUSD.south west);
\draw[garrow] (GBUS) |- (GT1);
\draw[garrow] ([yshift=-1.75pt]EX1.east) -- (GT2);
\draw[garrow] (GBUS) |- (GT3);
%withdraw lines
\coordinate (RFB) at ([xshift=-18.75pt]REUR.west);
\draw[pline] ([yshift=-2pt]RUSD.west) -| (RFB);
\draw[pline] ([yshift=-1pt]REUR.west) -| (RFB);
\draw[pline] (RGBP.west) -| (RFB);
\coordinate (RCB) at ([xshift=-19pt]RETH.west);
\draw[pline] ([yshift=-2pt]RBTC.west) -| (RCB);
\draw[pline] ([yshift=-.75pt]RETH.west) -| (RCB);
\draw[pline] (RXRP.west) -| (RCB);
\coordinate (RSB) at ([xshift=-19pt]RTUSD.west);
\draw[pline] (RUSDT.west) -| (RSB);
\draw[pline] ([yshift=.5pt]RUSDC.west) -| (RSB);
\draw[pline] ([yshift=.5pt]RTUSD.west) -| (RSB);
\draw[pline] ([yshift=.75pt]RPAX.west) -| (RSB);
\draw[pline] ([yshift=1pt]RGUSD.west) -| (RSB);
\draw[pline] ([yshift=1pt]RBUSD.west) -| (RSB);
\coordinate (RBUS) at ([xshift=18pt,yshift=-1.75pt]EX2.east);
\coordinate (RT1) at ([xshift=-25pt,yshift=-.5pt]REUR.west);
\coordinate (RT2) at ([xshift=-22.5pt,yshift=-1.75pt]RETH.west);
\coordinate (RT3) at ([xshift=-22.5pt,yshift=2.75pt]RTUSD.south west);
\draw[gline] ([yshift=-1.75pt]EX2.east) -- (RBUS);
\draw[garrow] (RBUS) |- (RT1);
\draw[garrow] (RBUS) |- (RT2);
\draw[garrow] (RBUS) |- (RT3);
\end{tikzpicture}
\end{document}
